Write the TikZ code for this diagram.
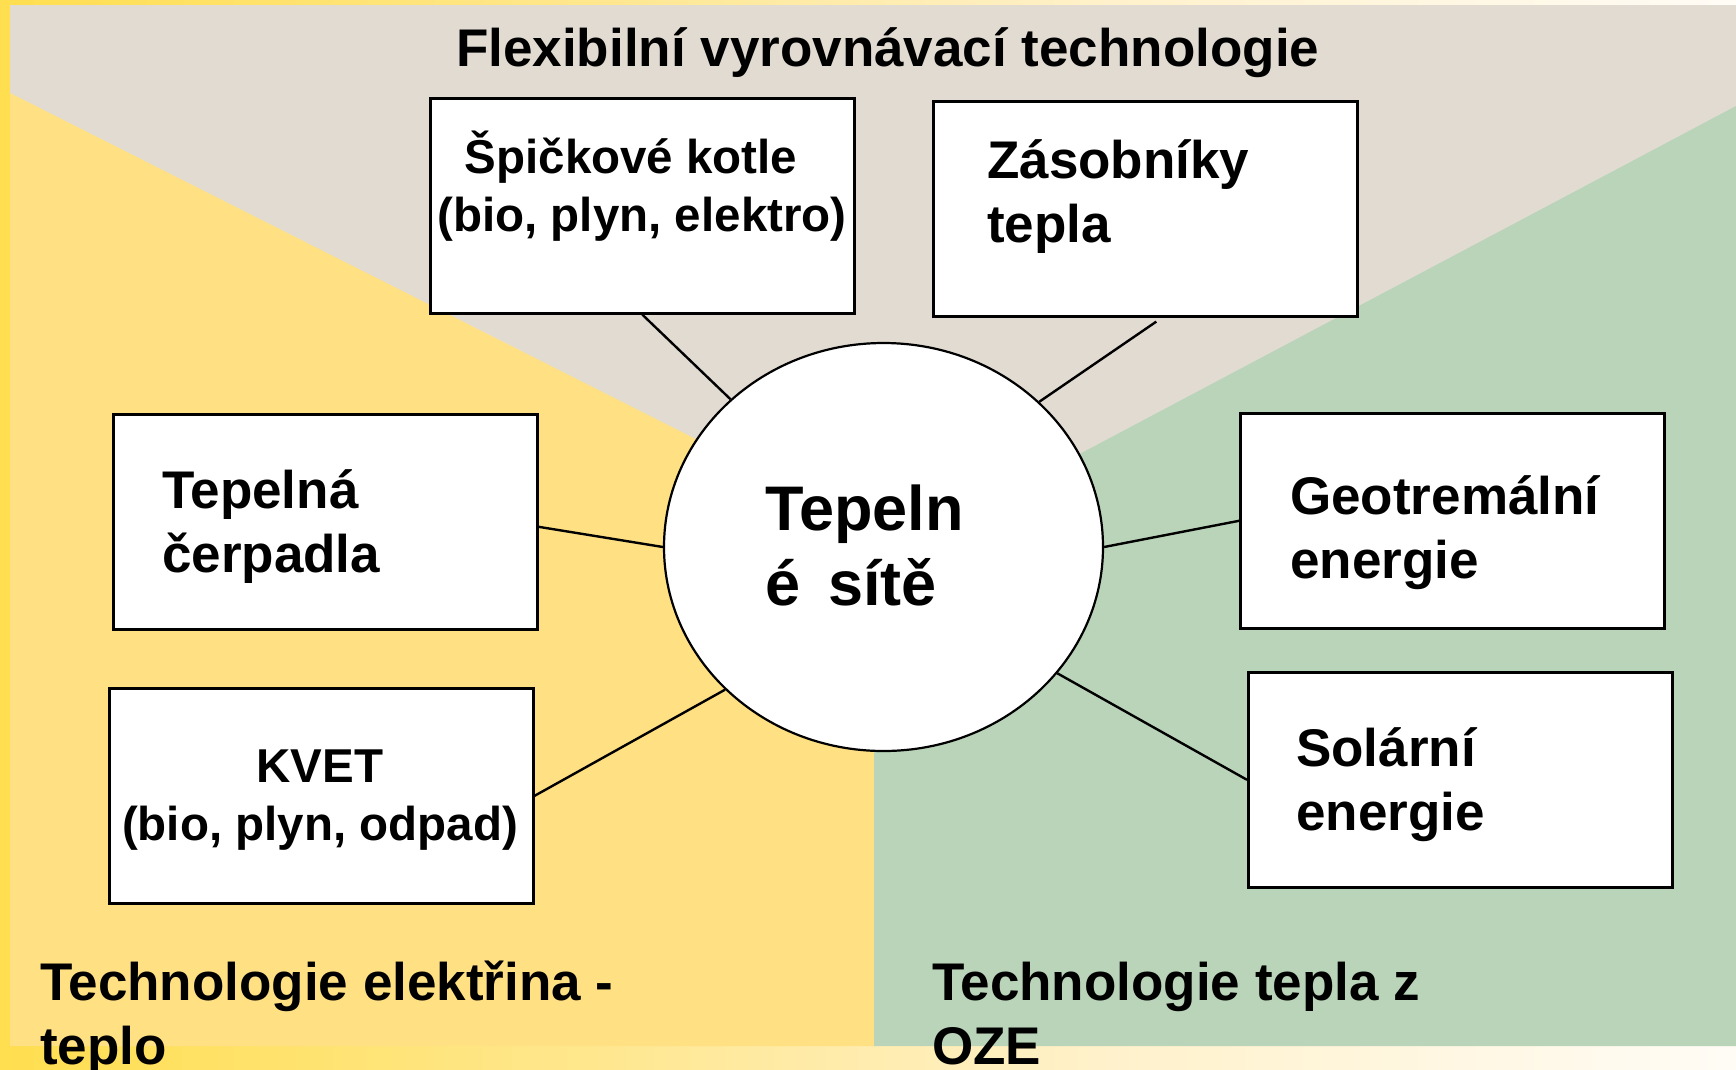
\documentclass[tikz,border=0pt]{standalone}
\usepackage{fontspec}
\setmainfont{Liberation Sans}
\usetikzlibrary{shapes.geometric}

\definecolor{panelgray}{HTML}{E2DBD2}
\definecolor{panelyellow}{HTML}{FFE083}
\definecolor{panelgreen}{HTML}{B9D4B8}
\definecolor{frameA}{HTML}{FFDE4F}
\definecolor{frameB}{HTML}{FFE78F}
\definecolor{frameC}{HTML}{FFF1CA}
\definecolor{frameD}{HTML}{FFFCF6}

\begin{document}
\begin{tikzpicture}[x=1pt,y=-1pt,
  techbox/.style={draw=black, line width=2.6pt, fill=white, rectangle,
    inner sep=0pt, anchor=north west, minimum width=424pt, minimum height=215pt},
  hubshape/.style={ellipse, draw=black, line width=2.2pt, fill=white, inner sep=0pt,
    minimum width=439pt, minimum height=408pt},
  conn/.style={draw=black, line width=2.4pt},
  bigtext/.style={inner sep=0pt, anchor=base west, align=left,
    font=\bfseries\fontsize{53}{64}\selectfont},
  smalltext/.style={inner sep=0pt, anchor=base, align=center,
    font=\bfseries\fontsize{47.5}{58}\selectfont},
  hubtext/.style={inner sep=0pt, anchor=base west, align=left,
    font=\bfseries\fontsize{63}{75}\selectfont}]

\useasboundingbox (0,0) rectangle (1736,1069);

% outer frame with a yellow-to-cream gradient
\shade[left color=frameA, right color=frameB] (0,0) rectangle (600,1069);
\shade[left color=frameB, right color=frameC] (599.5,0) rectangle (1100,1069);
\shade[left color=frameC, right color=frameD] (1099.5,0) rectangle (1736,1069);

% three background sectors
\fill[panelgray] (10,5) rectangle (1736,1046);
\fill[panelyellow] (10,93) -- (874,529) -- (874,1046) -- (10,1046) -- cycle;
\fill[panelgreen] (1736,106) -- (874,563) -- (874,1046) -- (1736,1046) -- cycle;

% title of the upper sector
\node[bigtext] (title) at (456,66) {Flexibilní vyrovnávací technologie};

% technology boxes
\node[techbox] (b1) at (429,97) {};
\node[techbox] (b2) at (932,100) {};
\node[techbox] (b3) at (112,413) {};
\node[techbox] (b4) at (108,687) {};
\node[techbox] (b5) at (1239,412) {};
\node[techbox] (b6) at (1247,671) {};

% central network
\node[hubshape] (hub) at (883.5,547) {};

% connectors from the boxes to the network
\draw[conn] (b1.south) -- (hub.136.6);
\draw[conn] ([xshift=11pt,yshift=-4pt]b2.south) -- (hub.43.4);
\draw[conn] ([yshift=-5pt]b3.east) -- (hub.180);
\draw[conn] (b4.east) -- (hub.222.7);
\draw[conn] (b5.west) -- (hub.0);
\draw[conn] (b6.west) -- (hub.-36.9);

% box labels (positioned by the baseline of their last line)
\node[smalltext] (t1) at (642,231) {Špičkové kotle\hspace*{22pt}\\(bio, plyn, elektro)};
\node[bigtext] (t2) at (987,242) {Zásobníky\\tepla};
\node[bigtext] (t3) at (162,572) {Tepelná\\čerpadla};
\node[smalltext] (t4) at (320,840) {KVET\\(bio, plyn, odpad)};
\node[bigtext] (t5) at (1290,578) {Geotremální\\energie};
\node[bigtext] (t6) at (1296,830) {Solární\\energie};
\node[hubtext] (th) at (765,605) {Tepeln\\é\hspace{28pt}sítě};

% sector captions
\node[bigtext] (capL) at (40,1064) {Technologie elektřina -\\teplo};
\node[bigtext] (capR) at (932,1064) {Technologie tepla z\\OZE};
\end{tikzpicture}
\end{document}
